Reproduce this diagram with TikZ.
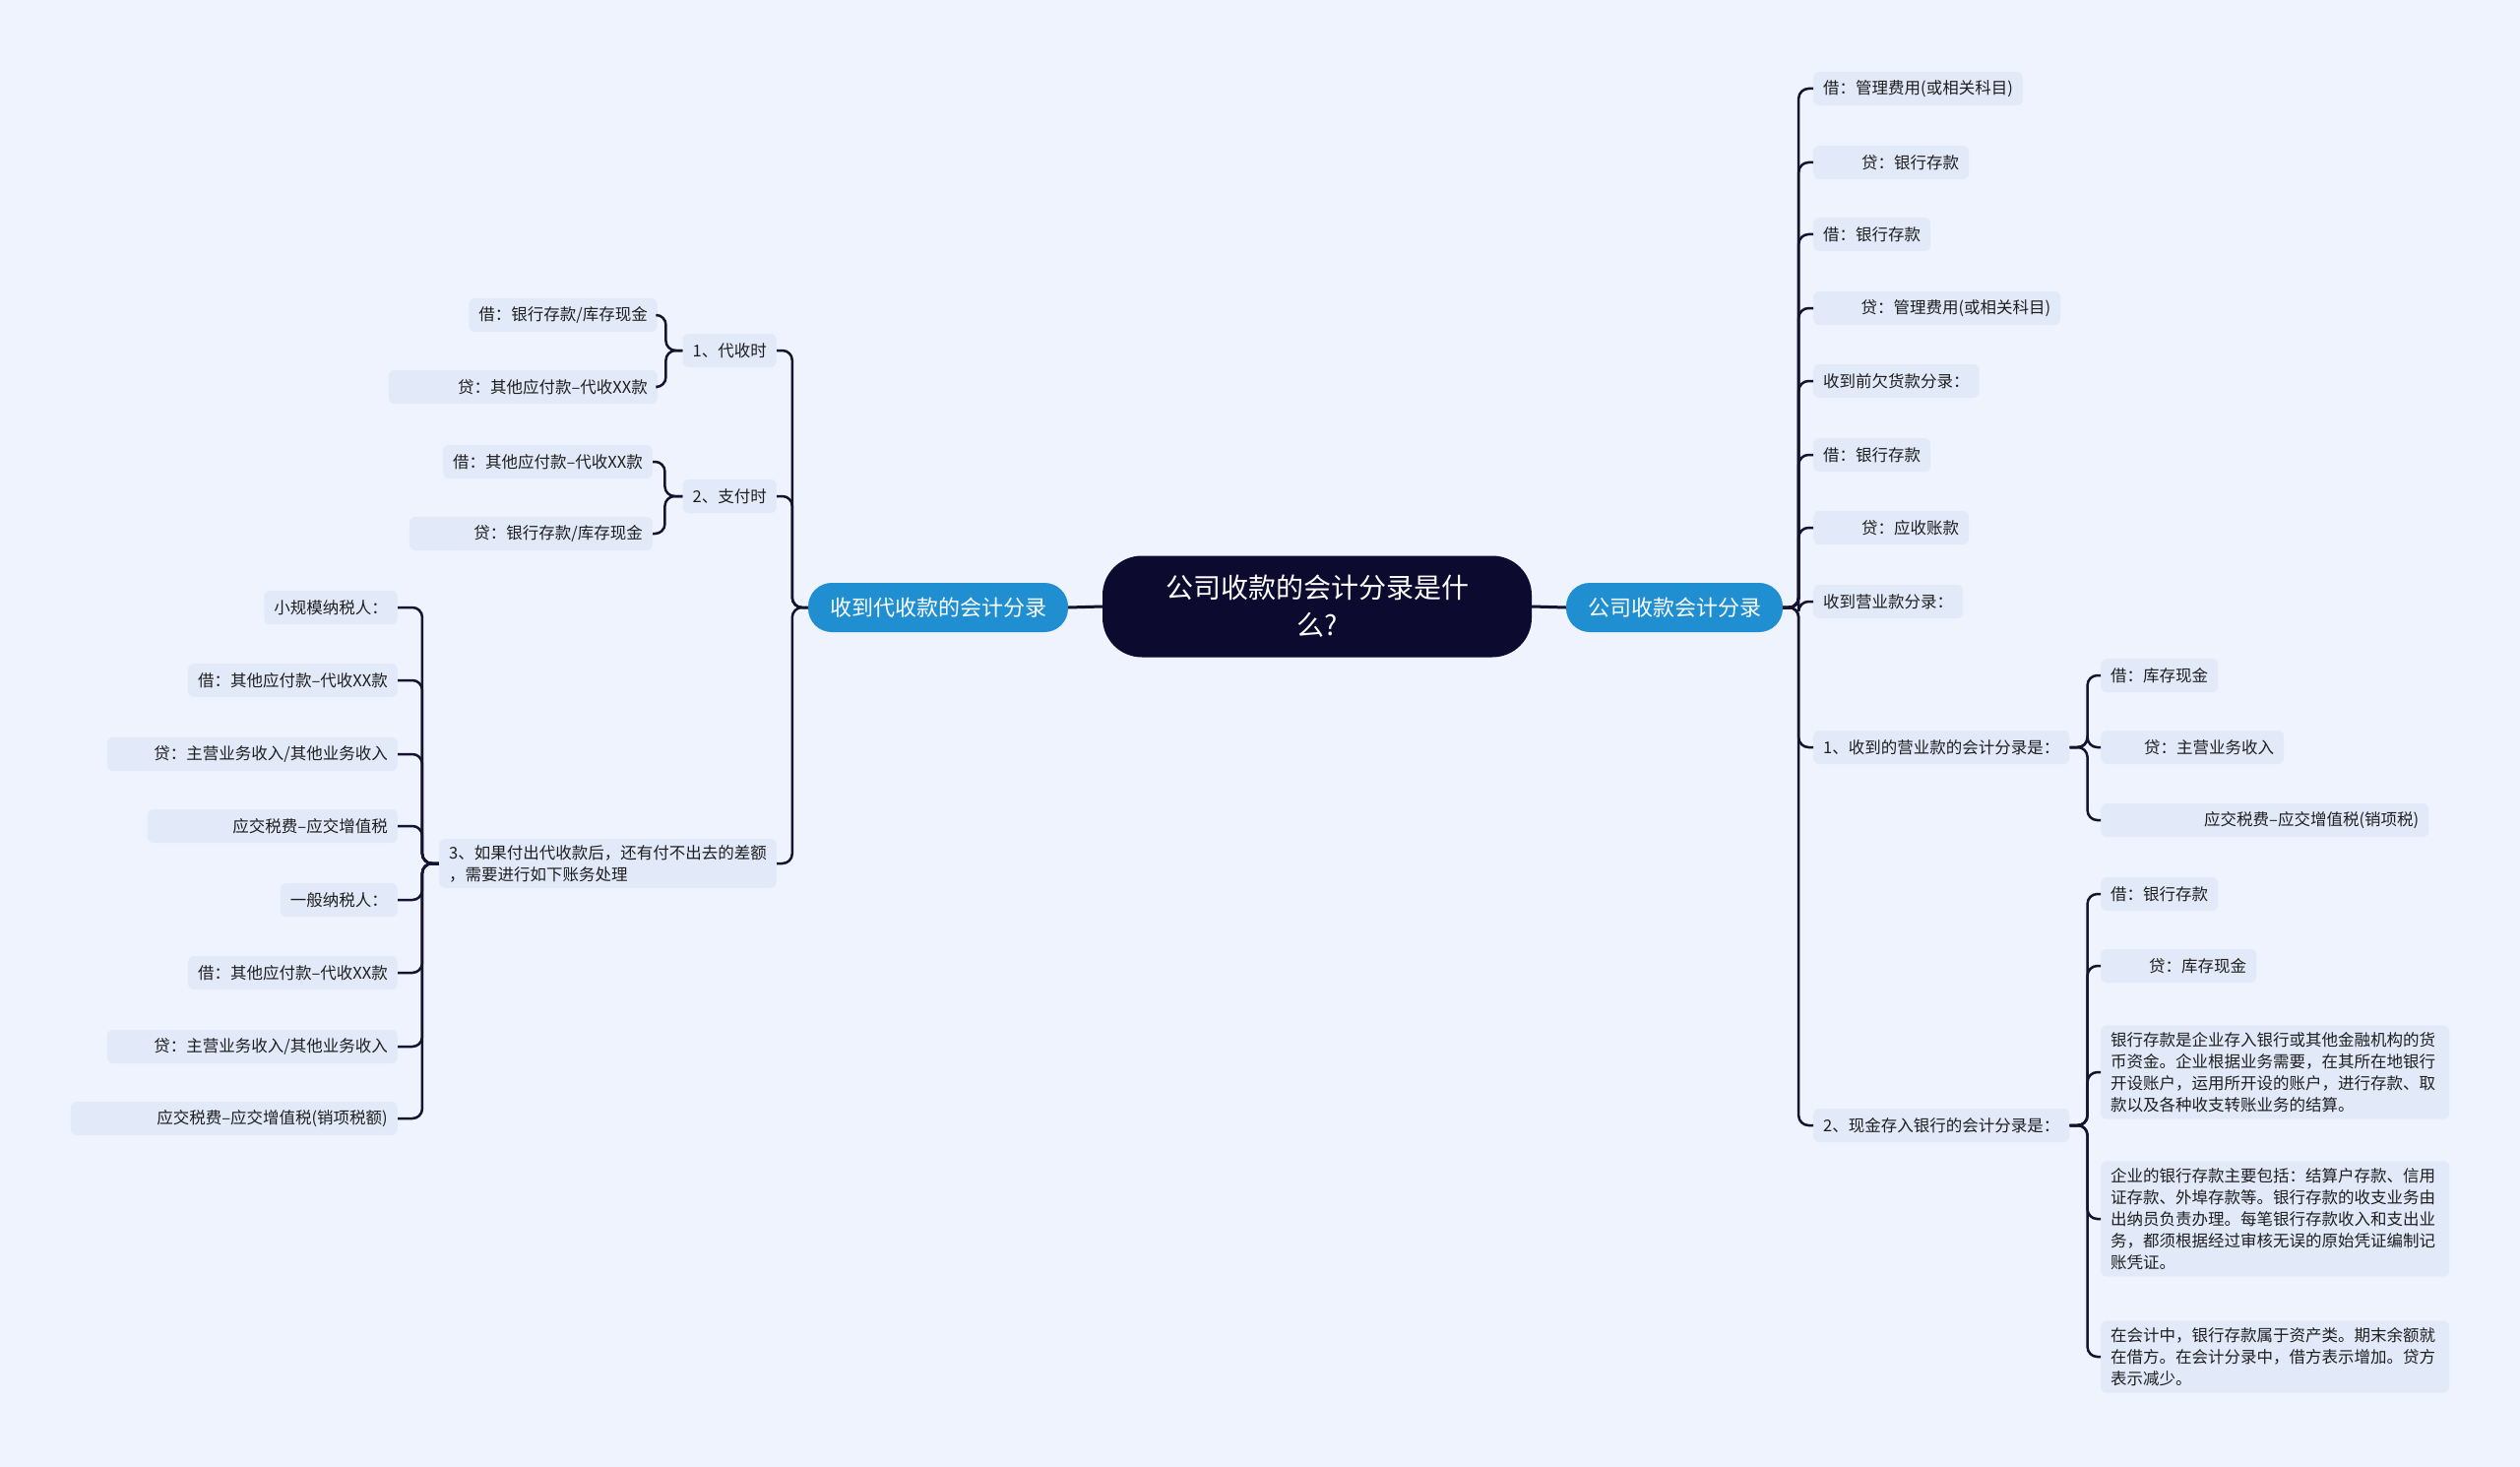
\documentclass[tikz,border=0pt]{standalone}
\usepackage{fontspec}
\setmainfont{Noto Sans CJK SC}

\definecolor{bgcol}{RGB}{238,243,254}
\definecolor{leafbg}{RGB}{226,234,250}
\definecolor{rootbg}{RGB}{12,10,46}
\definecolor{branchbg}{RGB}{31,143,209}
\definecolor{linecol}{RGB}{21,19,47}
\definecolor{ink}{RGB}{30,30,30}

\begin{document}
\begin{tikzpicture}[
    x=1pt, y=-1pt,
    root/.style={fill=rootbg, text=white, rounded corners=40pt, minimum width=436pt, minimum height=103pt, align=center, font=\fontsize{28}{38}\selectfont},
    branch/.style={fill=branchbg, text=white, rounded corners=24pt, minimum height=50pt, inner xsep=22pt, font=\fontsize{22}{26}\selectfont},
    leaf/.style={fill=leafbg, text=ink, rounded corners=6pt, minimum height=34pt, inner xsep=10pt, inner ysep=0pt, font=\fontsize{16.5}{22}\selectfont},
    note/.style={leaf, align=left, text width=334pt, inner ysep=7pt},
    link/.style={draw=linecol, line width=2.5pt, rounded corners=10pt}
]

\fill[bgcol] (0,0) rectangle (2560,1490);
\useasboundingbox (0,0) rectangle (2560,1490);

\node[root] (root) at (1338,616) {公司收款的会计分录是什\\么?};
\node[branch] (rb) at (1701,617) {公司收款会计分录};
\node[branch] (lb) at (953,617) {收到代收款的会计分录};

\draw[link, line width=3pt] (root.east) -- (rb.west);
\draw[link, line width=3pt] (root.west) -- (lb.east);

\node[leaf, anchor=west] (r1) at (1842,90) {借：管理费用(或相关科目)};
\node[leaf, anchor=west, text width=138pt, align=right] (r2) at (1842,165) {贷：银行存款};
\node[leaf, anchor=west] (r3) at (1842,238) {借：银行存款};
\node[leaf, anchor=west, text width=231pt, align=right] (r4) at (1842,313) {贷：管理费用(或相关科目)};
\node[leaf, anchor=west] (r5) at (1842,387) {收到前欠货款分录：};
\node[leaf, anchor=west] (r6) at (1842,462) {借：银行存款};
\node[leaf, anchor=west, text width=138pt, align=right] (r7) at (1842,536) {贷：应收账款};
\node[leaf, anchor=west] (r8) at (1842,611) {收到营业款分录：};
\node[leaf, anchor=west] (r9) at (1842,759) {1、收到的营业款的会计分录是：};
\node[leaf, anchor=west] (r10) at (1842,1143) {2、现金存入银行的会计分录是：};

\foreach \n in {r1,r2,r3,r4,r5,r6,r7,r8,r9,r10}
    \draw[link] (rb.east) -- ++(16,0) |- (\n.west);

\node[leaf, anchor=west] (r9a) at (2134,686) {借：库存现金};
\node[leaf, anchor=west, text width=166pt, align=right] (r9b) at (2134,759) {贷：主营业务收入};
\node[leaf, anchor=west, text width=313pt, align=right] (r9c) at (2134,833) {应交税费–应交增值税(销项税)};

\foreach \n in {r9a,r9b,r9c}
    \draw[link] (r9.east) -- ++(18,0) |- (\n.west);

\node[leaf, anchor=west] (r10a) at (2134,908) {借：银行存款};
\node[leaf, anchor=west, text width=138pt, align=right] (r10b) at (2134,981) {贷：库存现金};
\node[note, anchor=west] (r10c) at (2134,1089) {银行存款是企业存入银行或其他金融机构的货\\币资金。企业根据业务需要，在其所在地银行\\开设账户，运用所开设的账户，进行存款、取\\款以及各种收支转账业务的结算。};
\node[note, anchor=west] (r10d) at (2134,1238) {企业的银行存款主要包括：结算户存款、信用\\证存款、外埠存款等。银行存款的收支业务由\\出纳员负责办理。每笔银行存款收入和支出业\\务，都须根据经过审核无误的原始凭证编制记\\账凭证。};
\node[note, anchor=west] (r10e) at (2134,1378) {在会计中，银行存款属于资产类。期末余额就\\在借方。在会计分录中，借方表示增加。贷方\\表示减少。};

\foreach \n in {r10a,r10b,r10c,r10d,r10e}
    \draw[link] (r10.east) -- ++(18,0) |- (\n.west);

\node[leaf, anchor=east] (l1) at (789,356) {1、代收时};
\node[leaf, anchor=east] (l2) at (789,504) {2、支付时};
\node[leaf, anchor=east, align=left, inner ysep=6pt] (l3) at (789,877) {3、如果付出代收款后，还有付不出去的差额\\，需要进行如下账务处理};

\foreach \n in {l1,l2,l3}
    \draw[link] (lb.west) -- ++(-16,0) |- (\n.east);

\node[leaf, anchor=east] (l1a) at (668,320) {借：银行存款/库存现金};
\node[leaf, anchor=east, text width=253pt, align=right] (l1b) at (668,393) {贷：其他应付款–代收XX款};

\foreach \n in {l1a,l1b}
    \draw[link] (l1.west) -- ++(-17,0) |- (\n.east);

\node[leaf, anchor=east] (l2a) at (663,469) {借：其他应付款–代收XX款};
\node[leaf, anchor=east, text width=227pt, align=right] (l2b) at (663,542) {贷：银行存款/库存现金};

\foreach \n in {l2a,l2b}
    \draw[link] (l2.west) -- ++(-18,0) |- (\n.east);

\node[leaf, anchor=east] (l3a) at (404,617) {小规模纳税人：};
\node[leaf, anchor=east] (l3b) at (404,691) {借：其他应付款–代收XX款};
\node[leaf, anchor=east, text width=275pt, align=right] (l3c) at (404,766) {贷：主营业务收入/其他业务收入};
\node[leaf, anchor=east, text width=234pt, align=right] (l3d) at (404,839) {应交税费–应交增值税};
\node[leaf, anchor=east] (l3e) at (404,914) {一般纳税人：};
\node[leaf, anchor=east] (l3f) at (404,988) {借：其他应付款–代收XX款};
\node[leaf, anchor=east, text width=275pt, align=right] (l3g) at (404,1063) {贷：主营业务收入/其他业务收入};
\node[leaf, anchor=east, text width=312pt, align=right] (l3h) at (404,1136) {应交税费–应交增值税(销项税额)};

\foreach \n in {l3a,l3b,l3c,l3d,l3e,l3f,l3g,l3h}
    \draw[link] (l3.west) -- ++(-17,0) |- (\n.east);

\end{tikzpicture}
\end{document}
